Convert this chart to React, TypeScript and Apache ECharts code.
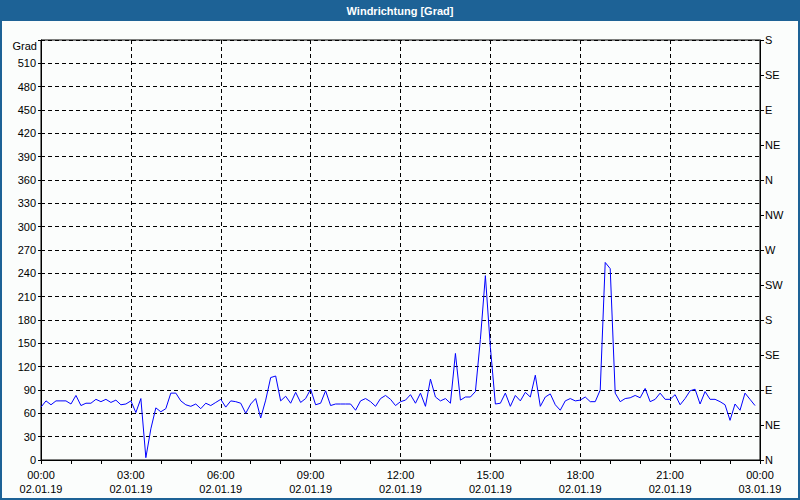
import React, { useEffect, useRef } from "react";
import * as echarts from "echarts";

// Wind direction in degrees, one reading every 10 minutes from 00:00 to 23:50 (02.01.19)
const windDirection: number[] = [
  68, 76, 71, 76, 76, 76, 72, 83, 70, 73, 73, 78, 75, 78, 74, 77, 71, 72,
  76, 61, 79, 3, 40, 67, 62, 66, 86, 86, 76, 71, 69, 72, 66, 73, 70, 74,
  78, 68, 76, 75, 73, 60, 72, 79, 54, 77, 106, 108, 76, 82, 73, 87, 74, 79,
  91, 71, 73, 89, 70, 72, 72, 72, 72, 64, 76, 79, 75, 69, 79, 83, 78, 70,
  75, 77, 84, 73, 86, 69, 104, 81, 76, 79, 73, 137, 77, 81, 81, 88, 155, 237,
  145, 72, 73, 86, 69, 83, 76, 87, 81, 109, 69, 81, 85, 71, 64, 76, 79, 76,
  77, 81, 75, 75, 90, 254, 246, 86, 75, 79, 80, 83, 80, 92, 75, 78, 86, 78,
  78, 84, 71, 79, 89, 91, 72, 88, 78, 78, 75, 71, 51, 72, 64, 86, 78, 70,
];
const stepMinutes = 10;

// X tick labels every 3 hours (minutes since 00:00)
const xTickTimes: string[] = ["00:00", "03:00", "06:00", "09:00", "12:00", "15:00", "18:00", "21:00", "00:00"];
const xTickDates: string[] = ["02.01.19", "02.01.19", "02.01.19", "02.01.19", "02.01.19", "02.01.19", "02.01.19", "02.01.19", "03.01.19"];

// Right axis compass labels, every 45 degrees from 0 to 540
const compassLabels: string[] = ["N", "NE", "E", "SE", "S", "SW", "W", "NW", "N", "NE", "E", "SE", "S"];

const titleText = "Windrichtung [Grad]";
const unitText = "Grad";

const BLUE = "#1d6296";
const BG = "#fbfdfc";
const FONT = "Liberation Sans";

export default function App() {
  const ref = useRef<HTMLDivElement>(null);

  useEffect(() => {
    if (!ref.current) return;
    const chart = echarts.init(ref.current, undefined, { renderer: "svg" });
    const data = windDirection.map((v, i) => [i * stepMinutes, v]);

    chart.setOption({
      animation: false,
      backgroundColor: BG,
      textStyle: { fontFamily: FONT },
      grid: {
        left: 41,
        top: 40,
        width: 719,
        height: 420,
        show: true,
        borderColor: "#000",
        borderWidth: 1,
        backgroundColor: BG,
      },
      xAxis: {
        type: "value",
        min: 0,
        max: 1440,
        interval: 180,
        axisLine: { show: true, lineStyle: { color: "#000", width: 1 } },
        axisTick: { show: true, length: 4, lineStyle: { color: "#000" } },
        minorTick: { show: true, splitNumber: 3, length: 4, lineStyle: { color: "#000" } },
        splitLine: { show: true, lineStyle: { color: "#000", type: [4, 3], width: 1 } },
        axisLabel: {
          margin: 8,
          color: "#000",
          fontFamily: FONT,
          fontSize: 11,
          lineHeight: 14,
          formatter: (v: number) => {
            const k = Math.round(v / 180);
            return `${xTickTimes[k] ?? ""}\n${xTickDates[k] ?? ""}`;
          },
        },
      },
      yAxis: [
        {
          type: "value",
          min: 0,
          max: 540,
          interval: 30,
          position: "left",
          axisLine: { show: true, lineStyle: { color: "#000", width: 1 } },
          axisTick: { show: true, length: 3, lineStyle: { color: "#000" } },
          splitLine: { show: true, lineStyle: { color: "#000", type: [4, 3], width: 1 } },
          axisLabel: {
            margin: 5,
            color: "#000",
            fontFamily: FONT,
            fontSize: 11,
            padding: [2, 0, 0, 0],
            formatter: (v: number) => (v >= 540 ? "" : String(v)),
          },
        },
        {
          type: "value",
          min: 0,
          max: 540,
          interval: 45,
          position: "right",
          axisLine: { show: true, lineStyle: { color: "#000", width: 1 } },
          axisTick: { show: true, length: 4, lineStyle: { color: "#000" } },
          splitLine: { show: false },
          axisLabel: {
            margin: 5,
            color: "#000",
            fontFamily: FONT,
            fontSize: 11,
            padding: [5, 0, 0, 0],
            formatter: (v: number) => compassLabels[Math.round(v / 45)] ?? "",
          },
        },
      ],
      series: [
        {
          type: "line",
          yAxisIndex: 0,
          data,
          showSymbol: false,
          symbol: "none",
          lineStyle: { color: "#0000ff", width: 1 },
          z: 5,
        },
      ],
      graphic: [
        {
          type: "rect",
          left: 0,
          top: 0,
          shape: { width: 800, height: 21 },
          style: { fill: BLUE },
          z: 10,
        },
        {
          type: "text",
          x: 400,
          y: 11,
          style: {
            text: titleText,
            fill: "#fff",
            font: `bold 11px ${FONT}`,
            textAlign: "center",
            textVerticalAlign: "middle",
          },
          z: 11,
        },
        {
          type: "text",
          x: 37,
          y: 46,
          style: {
            text: unitText,
            fill: "#000",
            font: `11px ${FONT}`,
            textAlign: "right",
            textVerticalAlign: "middle",
          },
          z: 11,
        },
        {
          type: "rect",
          shape: { x: 1, y: 1, width: 798, height: 498 },
          style: { fill: "none", stroke: BLUE, lineWidth: 2 },
          silent: true,
          z: 12,
        },
      ],
    });

    return () => chart.dispose();
  }, []);

  return (
    <div
      ref={ref}
      style={{ position: "absolute", left: 0, top: 0, width: 800, height: 500 }}
    />
  );
}
